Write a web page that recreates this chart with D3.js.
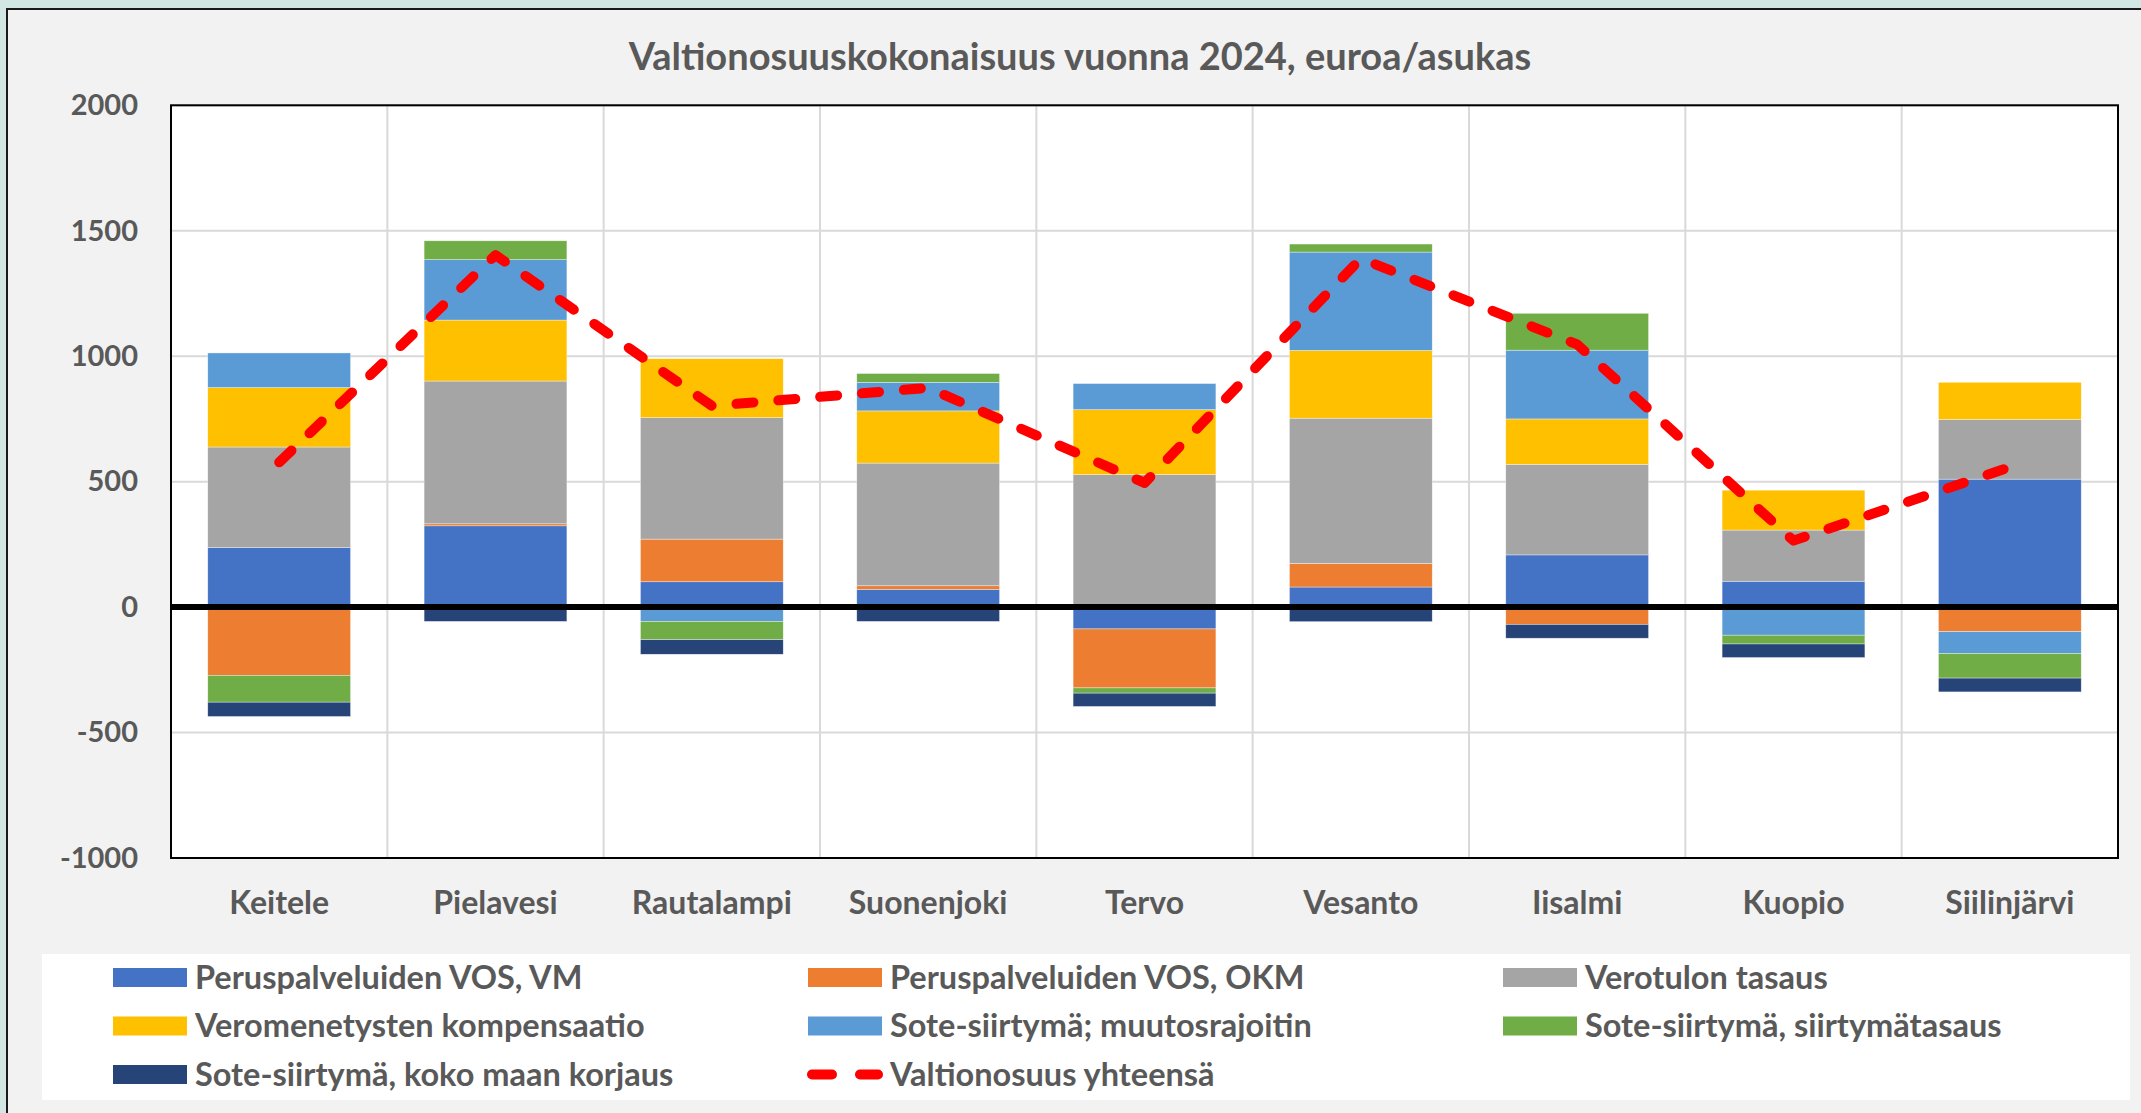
<!DOCTYPE html>
<html>
<meta charset="utf-8">
<style>
  body { margin: 0; background: #d2e6e4; }
  text { font-family: Lato, "Open Sans", sans-serif; font-weight: bold; fill: #595959; }
</style>
<body>
</body>
<script src="https://cdn.jsdelivr.net/npm/d3@7"></script>
<script>

var kunnat = ["Keitele", "Pielavesi", "Rautalampi", "Suonenjoki", "Tervo", "Vesanto", "Iisalmi", "Kuopio", "Siilinjärvi"];

// euroa/asukas
var vosVM = [237, 324, 101, 71, -87, 80, 208, 103, 510];
var vosOKM = [-272, 8, 170, 14, -235, 94, -69, 0, -98];
var verotulonTasaus = [401, 569, 484, 489, 528, 579, 361, 204, 238];
var veromenetystenKomp = [237, 243, 235, 208, 259, 270, 181, 159, 148];
var soteMuutosrajoitin = [138, 241, -57, 114, 104, 392, 274, -112, -87];
var soteSiirtymatasaus = [-107, 75, -73, 35, -21, 32, 147, -35, -98];
var soteKokoMaa = [-57, -57, -58, -57, -53, -58, -55, -54, -55];
var yhteensa = [577, 1403, 802, 874, 495, 1389, 1047, 265, 558];

var yTicks = [-1000, -500, 0, 500, 1000, 1500, 2000];

var sarjat = [
  { key: "vm", name: "Peruspalveluiden VOS, VM", color: "#4472c4", values: vosVM },
  { key: "okm", name: "Peruspalveluiden VOS, OKM", color: "#ed7d31", values: vosOKM },
  { key: "vt", name: "Verotulon tasaus", color: "#a5a5a5", values: verotulonTasaus },
  { key: "vk", name: "Veromenetysten kompensaatio", color: "#ffc000", values: veromenetystenKomp },
  { key: "mr", name: "Sote-siirtymä; muutosrajoitin", color: "#5b9bd5", values: soteMuutosrajoitin },
  { key: "st", name: "Sote-siirtymä, siirtymätasaus", color: "#70ad47", values: soteSiirtymatasaus },
  { key: "kk", name: "Sote-siirtymä, koko maan korjaus", color: "#264478", values: soteKokoMaa }
];

var width = 2141, height = 1113;
var plot = { left: 171, right: 2118, top: 105.3, bottom: 858 };

var svg = d3.select("body").append("svg")
    .attr("width", width)
    .attr("height", height);

// chart background + frame
svg.append("rect")
    .attr("x", 7).attr("y", 9)
    .attr("width", width + 10).attr("height", height + 10)
    .attr("fill", "#f2f2f2")
    .attr("stroke", "#1a1a1a")
    .attr("stroke-width", 2);

svg.append("text")
    .attr("x", 1080).attr("y", 70)
    .attr("text-anchor", "middle")
    .style("font-size", "38px")
    .text("Valtionosuuskokonaisuus vuonna 2024, euroa/asukas");

var x = d3.scaleBand()
    .domain(kunnat)
    .range([plot.left, plot.right])
    .paddingInner(0.34)
    .paddingOuter(0.17);

var y = d3.scaleLinear()
    .domain([-1000, 2000])
    .range([plot.bottom, plot.top]);

svg.append("rect")
    .attr("x", plot.left).attr("y", plot.top)
    .attr("width", plot.right - plot.left).attr("height", plot.bottom - plot.top)
    .attr("fill", "#fff");

// gridlines
var step = x.step();
var vgrid = d3.range(1, kunnat.length).map(function (i) { return plot.left + i * step; });
svg.append("g").selectAll("line").data(vgrid).enter().append("line")
    .attr("x1", function (d) { return d; }).attr("x2", function (d) { return d; })
    .attr("y1", plot.top).attr("y2", plot.bottom)
    .attr("stroke", "#d9d9d9").attr("stroke-width", 2);

svg.append("g").selectAll("line").data(yTicks.filter(function (d) { return d !== 0; })).enter().append("line")
    .attr("x1", plot.left).attr("x2", plot.right)
    .attr("y1", function (d) { return y(d); }).attr("y2", function (d) { return y(d); })
    .attr("stroke", "#d9d9d9").attr("stroke-width", 2);

// stacked bars
var rows = kunnat.map(function (k, i) {
  var r = { kunta: k };
  sarjat.forEach(function (s) { r[s.key] = s.values[i]; });
  return r;
});

var stack = d3.stack()
    .keys(sarjat.map(function (s) { return s.key; }))
    .offset(d3.stackOffsetDiverging);

var layers = svg.append("g").selectAll("g")
    .data(stack(rows)).enter().append("g")
    .attr("fill", function (d, i) { return sarjat[i].color; });

layers.selectAll("rect")
    .data(function (d) { return d; }).enter().append("rect")
    .attr("x", function (d) { return x(d.data.kunta); })
    .attr("width", x.bandwidth())
    .attr("y", function (d) { return y(Math.max(d[0], d[1])); })
    .attr("height", function (d) { return Math.abs(y(d[0]) - y(d[1])); })
    .attr("stroke", "#ffffff").attr("stroke-width", 0.6).attr("stroke-opacity", 0.6);

// zero line
svg.append("line")
    .attr("x1", plot.left).attr("x2", plot.right)
    .attr("y1", y(0)).attr("y2", y(0))
    .attr("stroke", "#000").attr("stroke-width", 6);

// plot border
svg.append("rect")
    .attr("x", plot.left).attr("y", plot.top)
    .attr("width", plot.right - plot.left).attr("height", plot.bottom - plot.top)
    .attr("fill", "none").attr("stroke", "#000").attr("stroke-width", 2);

// total line
var line = d3.line()
    .x(function (d, i) { return x(kunnat[i]) + x.bandwidth() / 2; })
    .y(function (d) { return y(d); });

svg.append("path")
    .datum(yhteensa)
    .attr("d", line)
    .attr("fill", "none")
    .attr("stroke", "#ff0000")
    .attr("stroke-width", 10)
    .attr("stroke-linecap", "round")
    .attr("stroke-linejoin", "round")
    .attr("stroke-dasharray", "17,25");

// axes
var yAxis = svg.append("g")
    .attr("transform", "translate(138,0)")
    .call(d3.axisLeft(y).tickValues(yTicks).tickSize(0).tickPadding(0)
      .tickFormat(function (d) { return String(d); }));
yAxis.select(".domain").remove();
yAxis.selectAll("text")
    .attr("fill", "#595959")
    .style("font-size", "29px")
    .style("font-family", "Lato")
    .style("font-weight", "bold");

var xAxis = svg.append("g")
    .attr("transform", "translate(0,914)")
    .call(d3.axisBottom(x).tickSize(0).tickPadding(0));
xAxis.select(".domain").remove();
xAxis.selectAll("text")
    .attr("dy", 0)
    .attr("fill", "#595959")
    .style("font-size", "32px")
    .style("font-family", "Lato")
    .style("font-weight", "bold");

// legend
svg.append("rect")
    .attr("x", 42).attr("y", 954)
    .attr("width", 2088).attr("height", 146)
    .attr("fill", "#fff");

var legendItems = sarjat.map(function (s) { return { name: s.name, color: s.color, type: "bar" }; });
legendItems.push({ name: "Valtionosuus yhteensä", color: "#ff0000", type: "line" });

var legend = svg.append("g").selectAll("g")
    .data(legendItems).enter().append("g")
    .attr("transform", function (d, i) {
      return "translate(" + (113 + (i % 3) * 695) + "," + (977.5 + Math.floor(i / 3) * 48.5) + ")";
    });

legend.filter(function (d) { return d.type === "bar"; }).append("rect")
    .attr("x", 0).attr("y", -9.5)
    .attr("width", 74).attr("height", 19)
    .attr("fill", function (d) { return d.color; });

legend.filter(function (d) { return d.type === "line"; }).append("line")
    .attr("x1", 4).attr("x2", 70)
    .attr("stroke", function (d) { return d.color; })
    .attr("stroke-width", 10)
    .attr("stroke-linecap", "round")
    .attr("stroke-dasharray", "20,28");

legend.append("text")
    .attr("x", 82).attr("y", 11)
    .style("font-size", "32.5px")
    .text(function (d) { return d.name; });

</script>
</html>
